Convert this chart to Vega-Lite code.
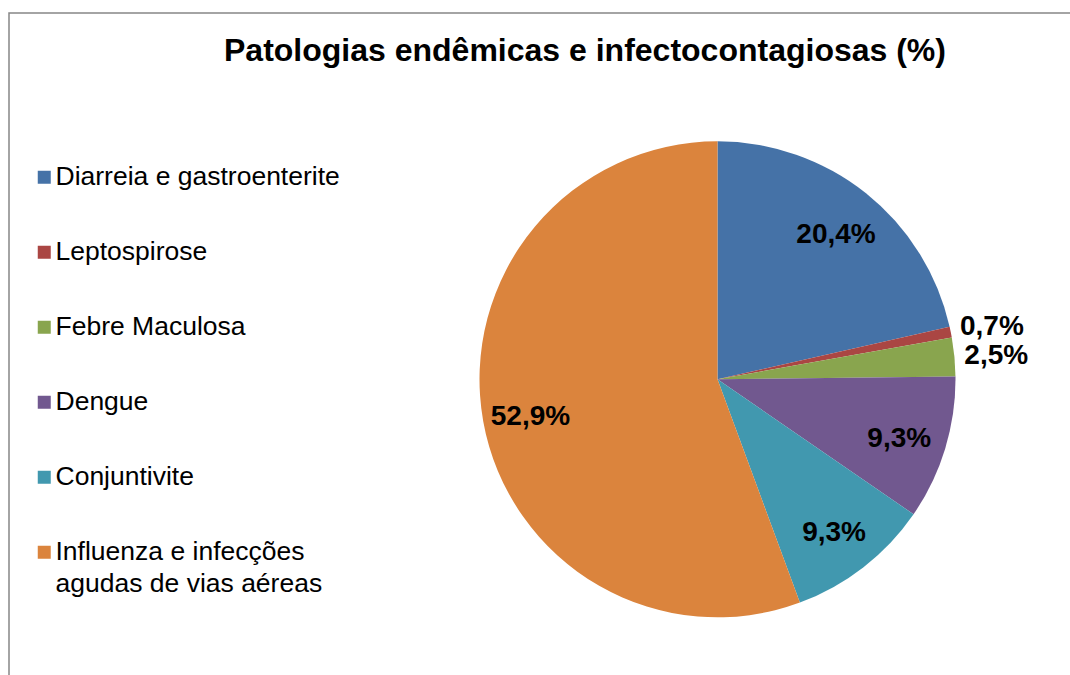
{
  "$schema": "https://vega.github.io/schema/vega-lite/v6.json",
  "width": 1200,
  "height": 800,
  "autosize": {"type": "none"},
  "padding": {"left": 9, "top": 13, "right": 0, "bottom": 0},
  "background": "white",
  "config": {
    "view": {"stroke": "#868686", "strokeWidth": 1.5},
    "font": "Liberation Sans"
  },
  "title": {
    "text": "Patologias endêmicas e infectocontagiosas (%)",
    "anchor": "start",
    "frame": "group",
    "dx": 215,
    "offset": -80,
    "baseline": "alphabetic",
    "fontSize": 32,
    "fontWeight": "bold",
    "font": "Liberation Sans",
    "color": "#000000"
  },
  "data": {
    "values": [
      {"doenca": "Diarreia e gastroenterite", "pct": 20.4, "rotulo": "20,4%", "ordem": 1},
      {"doenca": "Leptospirose", "pct": 0.7, "rotulo": "0,7%", "ordem": 2},
      {"doenca": "Febre Maculosa", "pct": 2.5, "rotulo": "2,5%", "ordem": 3},
      {"doenca": "Dengue", "pct": 9.3, "rotulo": "9,3%", "ordem": 4},
      {"doenca": "Conjuntivite", "pct": 9.3, "rotulo": "9,3%", "ordem": 5},
      {"doenca": "Influenza e infecções agudas de vias aéreas", "pct": 52.9, "rotulo": "52,9%", "ordem": 6}
    ]
  },
  "encoding": {
    "theta": {"field": "pct", "type": "quantitative", "stack": true},
    "order": {"field": "ordem", "type": "quantitative"},
    "x": {"value": 708.5},
    "y": {"value": 366.3}
  },
  "layer": [
    {
      "mark": {"type": "arc", "outerRadius": 238},
      "encoding": {
        "color": {
          "field": "doenca",
          "type": "nominal",
          "scale": {
            "domain": ["Diarreia e gastroenterite", "Leptospirose", "Febre Maculosa", "Dengue", "Conjuntivite", "Influenza e infecções agudas de vias aéreas"],
            "range": ["#4572A7", "#AA4643", "#89A54E", "#71588F", "#4198AF", "#DB843D"]
          },
          "legend": {
            "orient": "none",
            "legendX": 22,
            "legendY": 151,
            "title": null,
            "padding": 0,
            "symbolType": "square",
            "symbolSize": 169,
            "symbolStrokeWidth": 0,
            "symbolOpacity": 1,
            "labelFont": "Liberation Sans",
            "labelFontSize": 26.5,
            "labelColor": "#000000",
            "labelLimit": 600,
            "labelOffset": -2,
            "rowPadding": 48,
            "labelExpr": "datum.label == 'Influenza e infecções agudas de vias aéreas' ? ['Influenza e infecções', 'agudas de vias aéreas'] : datum.label",
            "encode": {
              "labels": {"update": {"lineHeight": {"value": 32}}}
            }
          }
        }
      }
    },
    {
      "mark": {"type": "text", "radius": 190, "dy": 4, "fontSize": 28, "fontWeight": "bold", "font": "Liberation Sans"},
      "encoding": {
        "detail": {"field": "doenca", "type": "nominal"},
        "color": {"value": "#000000"},
        "text": {"condition": {"test": "datum.pct >= 5", "field": "rotulo"}, "value": ""}
      }
    },
    {
      "mark": {"type": "text", "radius": 280, "dy": 3, "fontSize": 28, "fontWeight": "bold", "font": "Liberation Sans"},
      "encoding": {
        "detail": {"field": "doenca", "type": "nominal"},
        "color": {"value": "#000000"},
        "text": {"condition": {"test": "datum.pct < 5", "field": "rotulo"}, "value": ""}
      }
    }
  ]
}
